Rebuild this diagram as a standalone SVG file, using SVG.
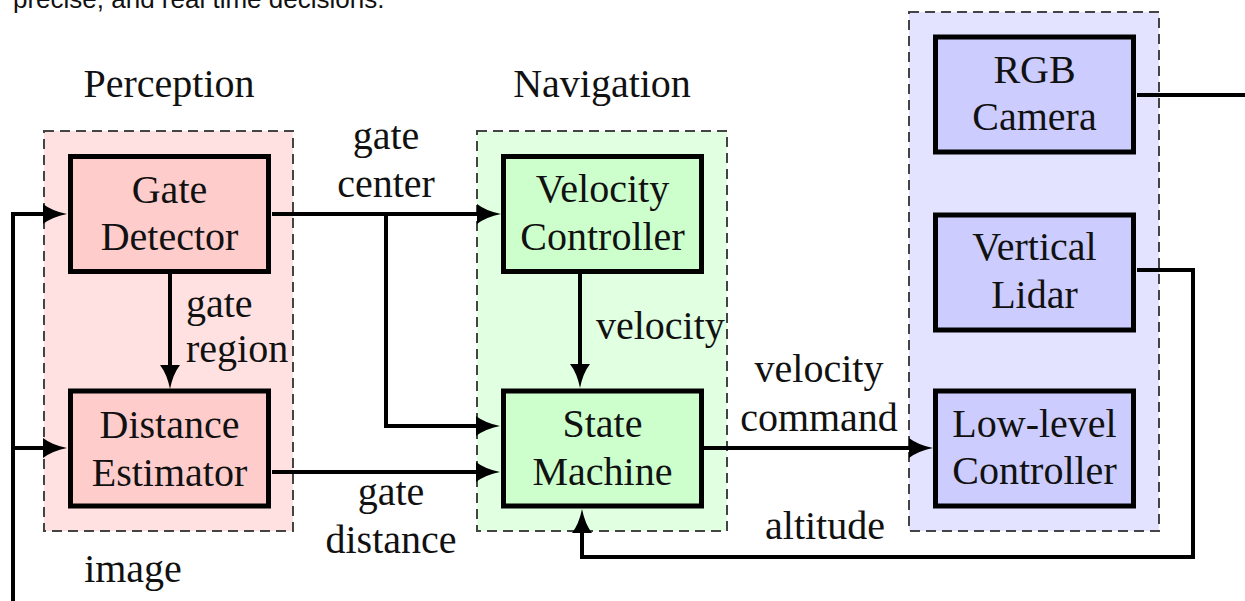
<svg xmlns="http://www.w3.org/2000/svg" width="1245" height="601" viewBox="0 0 1245 601">
  <style>
    text { font-family: "Liberation Serif", "Times New Roman", serif; font-size: 40px; fill: #111; }
    .mid { text-anchor: middle; }
    .caption { font-family: "Liberation Sans", Arial, sans-serif; font-size: 26px; }
    .frame { stroke: #444; stroke-width: 2; stroke-dasharray: 10 6; }
    .box { stroke: #000; stroke-width: 5; }
    .wire { fill: none; stroke: #000; stroke-width: 4; }
    .perc-bg { fill: #ffe1e1; }
    .perc { fill: #ffcccc; }
    .nav-bg { fill: #e1ffe1; }
    .nav { fill: #ccffcc; }
    .hw-bg { fill: #e3e3ff; }
    .hw { fill: #ccccff; }
  </style>
  <defs>
    <marker id="head" markerUnits="userSpaceOnUse" markerWidth="26" markerHeight="22" refX="8" refY="11" orient="auto">
      <path d="M0,1 Q9,8 24,11 Q9,14 0,21 Z" fill="#000"/>
    </marker>
  </defs>

  <rect width="1245" height="601" fill="#fff"/>

  <!-- running text above the figure -->
  <text class="caption" x="13" y="8">precise, and real time decisions.</text>

  <!-- subsystem frames -->
  <g id="perception-frame">
    <rect class="frame perc-bg" x="44" y="131" width="249" height="400"/>
    <text class="mid" x="169" y="97">Perception</text>
  </g>
  <g id="navigation-frame">
    <rect class="frame nav-bg" x="477" y="131" width="250" height="400"/>
    <text class="mid" x="602" y="97">Navigation</text>
  </g>
  <g id="hardware-frame">
    <rect class="frame hw-bg" x="909" y="12" width="250" height="519"/>
  </g>

  <!-- connectors -->
  <g id="connectors">
    <!-- image feed -->
    <path class="wire" d="M13,601 V214 H51" marker-end="url(#head)"/>
    <path class="wire" d="M13,448 H51" marker-end="url(#head)"/>
    <!-- gate center -->
    <path class="wire" d="M272,214 H485" marker-end="url(#head)"/>
    <path class="wire" d="M386,214 V426 H484" marker-end="url(#head)"/>
    <!-- gate region -->
    <path class="wire" d="M170,274 V373" marker-end="url(#head)"/>
    <!-- gate distance -->
    <path class="wire" d="M272,472 H484" marker-end="url(#head)"/>
    <!-- velocity -->
    <path class="wire" d="M580,273 V372" marker-end="url(#head)"/>
    <!-- velocity command -->
    <path class="wire" d="M704,448 H917" marker-end="url(#head)"/>
    <!-- altitude -->
    <path class="wire" d="M1137,270 H1193 V557 H582 V525" marker-end="url(#head)"/>
    <!-- camera output -->
    <path class="wire" d="M1137,95 H1245"/>
  </g>

  <!-- connector labels -->
  <g id="labels">
    <text class="mid" x="386" y="149">gate</text>
    <text class="mid" x="386" y="197">center</text>
    <text x="186" y="317">gate</text>
    <text x="186" y="362">region</text>
    <text class="mid" x="391" y="505">gate</text>
    <text class="mid" x="391" y="553">distance</text>
    <text x="596" y="339">velocity</text>
    <text class="mid" x="819" y="382">velocity</text>
    <text class="mid" x="819" y="431">command</text>
    <text class="mid" x="825" y="539">altitude</text>
    <text class="mid" x="133" y="582">image</text>
  </g>

  <!-- perception blocks -->
  <g id="gate-detector">
    <rect class="box perc" x="70.5" y="156.5" width="198" height="115"/>
    <text class="mid" x="169.5" y="203">Gate</text>
    <text class="mid" x="169.5" y="250">Detector</text>
  </g>
  <g id="distance-estimator">
    <rect class="box perc" x="70.5" y="391" width="198" height="115"/>
    <text class="mid" x="169.5" y="438">Distance</text>
    <text class="mid" x="169.5" y="486">Estimator</text>
  </g>

  <!-- navigation blocks -->
  <g id="velocity-controller">
    <rect class="box nav" x="503.5" y="156.5" width="198" height="115"/>
    <text class="mid" x="602.5" y="202">Velocity</text>
    <text class="mid" x="602.5" y="250">Controller</text>
  </g>
  <g id="state-machine">
    <rect class="box nav" x="503.5" y="391" width="198" height="115"/>
    <text class="mid" x="602.5" y="437">State</text>
    <text class="mid" x="602.5" y="485">Machine</text>
  </g>

  <!-- hardware blocks -->
  <g id="rgb-camera">
    <rect class="box hw" x="935.5" y="37" width="198" height="115"/>
    <text class="mid" x="1034.5" y="83">RGB</text>
    <text class="mid" x="1034.5" y="130">Camera</text>
  </g>
  <g id="vertical-lidar">
    <rect class="box hw" x="935.5" y="215" width="198" height="115"/>
    <text class="mid" x="1034.5" y="260">Vertical</text>
    <text class="mid" x="1034.5" y="308">Lidar</text>
  </g>
  <g id="low-level-controller">
    <rect class="box hw" x="935.5" y="391" width="198" height="115"/>
    <text class="mid" x="1034.5" y="437">Low-level</text>
    <text class="mid" x="1034.5" y="484">Controller</text>
  </g>
</svg>
